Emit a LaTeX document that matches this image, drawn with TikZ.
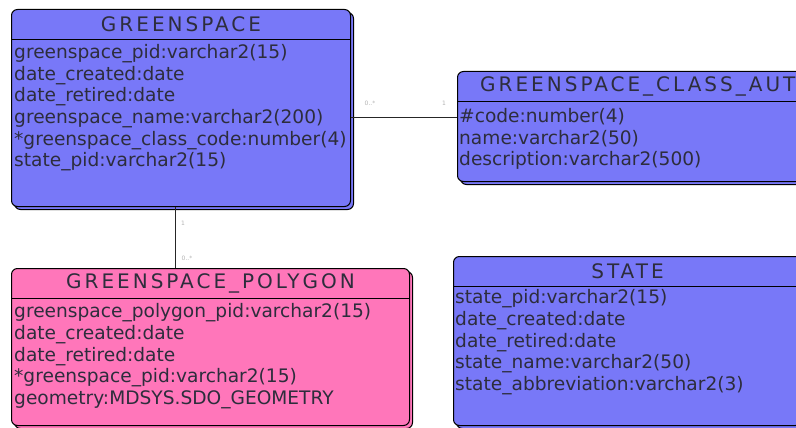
\documentclass[tikz,border=0pt]{standalone}
\usepackage{fontspec}
\setmainfont{DejaVu Sans}
\newfontfamily\titlefont[LetterSpace=15]{DejaVu Sans}
\usetikzlibrary{shadows}

\definecolor{entblue}{RGB}{120,120,248}
\definecolor{entpink}{RGB}{255,118,186}
\definecolor{enttext}{RGB}{45,45,60}

\tikzset{
  entity/.style={draw=black,line width=1pt,rounded corners=6pt,anchor=north west,inner sep=0pt,
    copy shadow={shadow xshift=3pt,shadow yshift=-3pt}},
  enttitle/.style={inner sep=0pt,font=\titlefont\fontsize{20}{20}\selectfont,text=enttext},
  attr/.style={anchor=west,inner sep=0pt,font=\fontsize{18.6}{18.6}\selectfont,text=enttext},
  mult/.style={inner sep=0pt,font=\fontsize{6}{6}\selectfont,text=black!30},
  link/.style={line width=0.9pt,black!85}
}

\begin{document}
\begin{tikzpicture}[x=1pt,y=-1pt]
		\useasboundingbox (0,0) rectangle (796,428);
		\clip (0,0) rectangle (796,428);
		% the four tables
		\node[entity,fill=entblue,minimum width=339pt,minimum height=197pt] (gs) at (11,9) {};
		\node[entity,fill=entblue,minimum width=382pt,minimum height=110pt] (gsc) at (457,71) {};
		\node[entity,fill=entpink,minimum width=398pt,minimum height=157pt] (gsp) at (11,268) {};
		\node[entity,fill=entblue,minimum width=348pt,minimum height=169pt] (st) at (453,256) {};
		% title bars
		\foreach \t in {gs,gsc,gsp,st}
			\draw[line width=1pt] ([yshift=-30.5pt]\t.north west) -- ([yshift=-30.5pt]\t.north east);
		\node[enttitle] (gs-title) at ([yshift=-15pt]gs.north) {GREENSPACE};
		\node[enttitle,anchor=west] (gsc-title) at ([xshift=23pt,yshift=-15pt]gsc.north west) {GREENSPACE\_CLASS\_AUT};
		\node[enttitle] (gsp-title) at ([yshift=-15pt]gsp.north) {GREENSPACE\_POLYGON};
		\node[enttitle] (st-title) at ([yshift=-15pt]st.north) {STATE};
		% columns
		\foreach \row [count=\i] in {greenspace\_pid:varchar2(15),date\_created:date,date\_retired:date,
				greenspace\_name:varchar2(200),*greenspace\_class\_code:number(4),state\_pid:varchar2(15)}
			\node[attr] (gs-\i) at ([xshift=3pt,yshift={-22.8pt-21.7pt*\i}]gs.north west) {\row};
		\foreach \row [count=\i] in {\#code:number(4),name:varchar2(50),description:varchar2(500)}
			\node[attr] (gsc-\i) at ([xshift=2pt,yshift={-24.3pt-21.7pt*\i}]gsc.north west) {\row};
		\foreach \row [count=\i] in {greenspace\_polygon\_pid:varchar2(15),date\_created:date,date\_retired:date,
				*greenspace\_pid:varchar2(15),geometry:MDSYS.SDO\_GEOMETRY}
			\node[attr] (gsp-\i) at ([xshift=3pt,yshift={-23.3pt-21.7pt*\i}]gsp.north west) {\row};
		\foreach \row [count=\i] in {state\_pid:varchar2(15),date\_created:date,date\_retired:date,
				state\_name:varchar2(50),state\_abbreviation:varchar2(3)}
			\node[attr] (st-\i) at ([xshift=2pt,yshift={-21.3pt-21.7pt*\i}]st.north west) {\row};
		% relationships
		\coordinate (gsleg) at (175,0);
		\draw[link] (gs.east |- gsc-1) -- (gsc.west |- gsc-1);
		\draw[link] (gs.south -| gsleg) -- (gsp.north -| gsleg);
		\node[mult] (m1) at (370,103) {0..*};
		\node[mult] (m2) at (444,103) {1};
		\node[mult] (m3) at (183,223) {1};
		\node[mult] (m4) at (187,258) {0..*};
		\end{tikzpicture}
\end{document}
